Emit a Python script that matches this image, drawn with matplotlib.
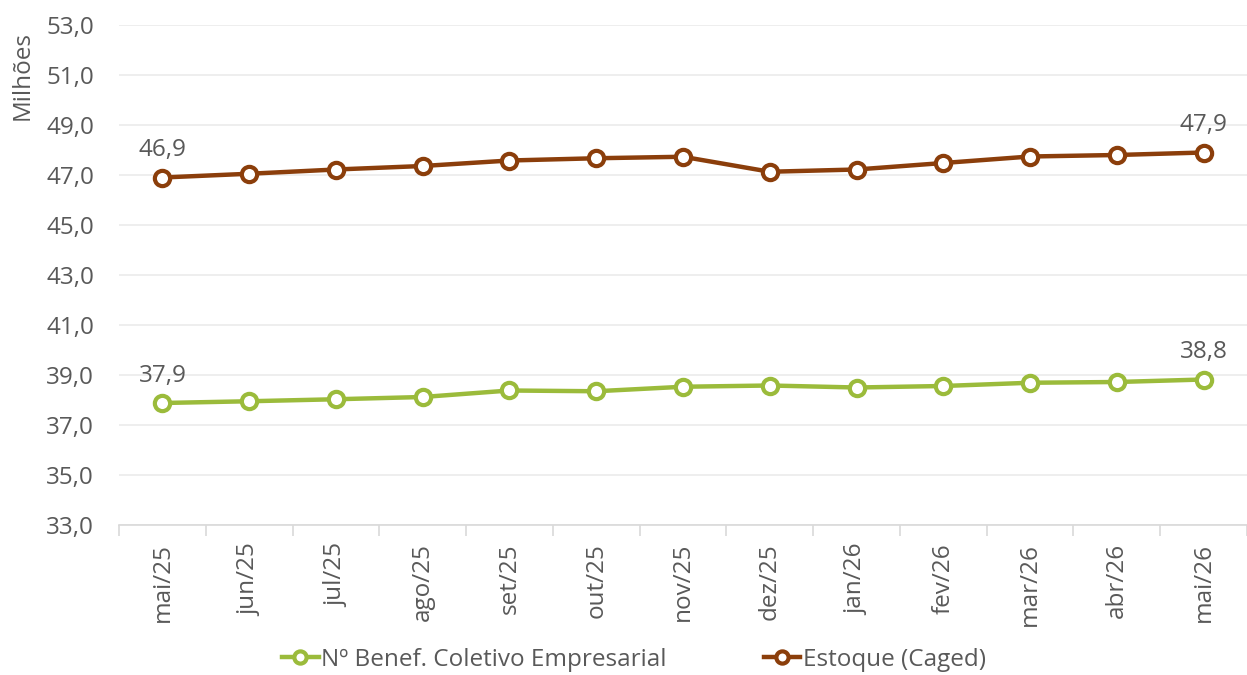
import matplotlib
matplotlib.use("Agg")
import matplotlib.pyplot as plt
import numpy as np

plt.rcParams['font.family'] = ['Open Sans', 'DejaVu Sans']

meses = ['mai/25', 'jun/25', 'jul/25', 'ago/25', 'set/25', 'out/25', 'nov/25',
         'dez/25', 'jan/26', 'fev/26', 'mar/26', 'abr/26', 'mai/26']
benef = [37.88, 37.95, 38.03, 38.12, 38.38, 38.35, 38.53, 38.58, 38.50, 38.56,
         38.69, 38.72, 38.82]
caged = [46.90, 47.05, 47.22, 47.36, 47.58, 47.67, 47.73, 47.13, 47.22, 47.48,
         47.74, 47.80, 47.90]

verde = '#9bbb3b'
marrom = '#8b3e0b'
cinza = '#595959'
fs = 17.5

fig = plt.figure(figsize=(12.47, 6.75), dpi=100)
ax = fig.add_axes([119 / 1247, 1 - 525 / 675, 1 - 119 / 1247, 500 / 675])

x = np.arange(len(meses))
ax.plot(x, benef, color=verde, lw=3.2, marker='o', ms=11, mfc='white',
        mec=verde, mew=3, label='Nº Benef. Coletivo Empresarial', zorder=3)
ax.plot(x, caged, color=marrom, lw=3.2, marker='o', ms=11, mfc='white',
        mec=marrom, mew=3, label='Estoque (Caged)', zorder=3)

for serie in (benef, caged):
    for i in (0, len(serie) - 1):
        ax.annotate(f'{serie[i]:.1f}'.replace('.', ','), (x[i], serie[i]),
                    xytext=(0, 11), textcoords='offset points', ha='center',
                    va='bottom', fontsize=fs, color=cinza)

ax.set_xlim(-0.5, len(meses) - 0.5)
ax.set_ylim(33, 53)
ax.set_yticks(np.arange(33, 53.1, 2))
ax.set_yticklabels([f'{v:.1f}'.replace('.', ',') for v in np.arange(33, 53.1, 2)])
ax.yaxis.grid(True, color='#ebebeb', lw=1.2)
ax.set_axisbelow(True)

ax.set_xticks(x)
ax.set_xticklabels(meses, rotation=90)
ax.set_xticks(np.arange(-0.5, len(meses), 1), minor=True)
ax.tick_params(axis='x', which='major', length=0, pad=13, labelsize=fs, labelcolor=cinza)
ax.tick_params(axis='x', which='minor', length=8, color='#d9d9d9', width=1.2)
ax.tick_params(axis='y', length=0, pad=18, labelsize=fs, labelcolor=cinza)

for s in ('top', 'right', 'left'):
    ax.spines[s].set_visible(False)
ax.spines['bottom'].set_color('#d9d9d9')
ax.spines['bottom'].set_linewidth(1.2)

fig.text(23 / 1247, 1 - 76 / 675, 'Milhões', rotation=90, ha='center', va='center',
         fontsize=fs, color=cinza)

leg = fig.legend(loc='center', bbox_to_anchor=(634 / 1247, 1 - 660 / 675), ncol=2,
                 frameon=False, fontsize=fs, handlelength=1.5, handletextpad=0.1,
                 columnspacing=4.0, markerscale=0.8, borderpad=0)
for t in leg.get_texts():
    t.set_color(cinza)

fig.savefig('out.png', dpi=100)
